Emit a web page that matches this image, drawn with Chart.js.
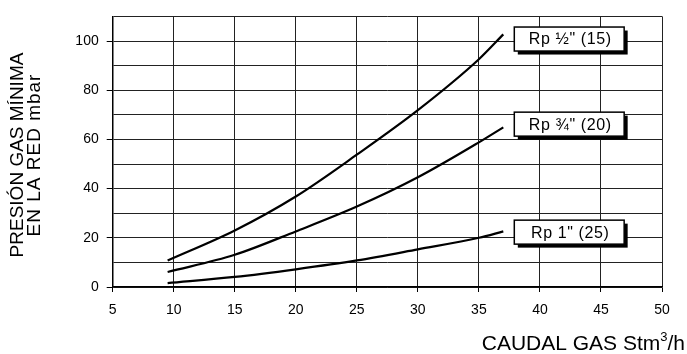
<!DOCTYPE html>
<html lang="es">
<head>
    <meta charset="UTF-8">
    <title>Presión gas mínima</title>
    <style>
        body { margin: 0; padding: 0; background: #fff; }
        #wrap { width: 687px; height: 354px; }
    </style>
    <script src="https://cdn.jsdelivr.net/npm/chart.js"></script>
</head>
<body>
<div id="wrap"><canvas id="chart" width="687" height="354"></canvas></div>
<script>
    // Datos
    const caudal = [9.5, 15, 20, 25, 30, 35, 37];
    const rp15 = [10.8, 23, 36.8, 53.8, 71.9, 92.6, 102.7];
    const rp20 = [6.1, 13.1, 22.6, 32.7, 44.6, 58.8, 64.9];
    const rp25 = [1.6, 4.1, 7.2, 10.8, 15.3, 20, 22.6];
    const etiquetas = ['Rp \u00BD" (15)', 'Rp \u00BE" (20)', 'Rp 1" (25)'];
    const etiquetaY = [100.8, 66.2, 22.3];
    const xTicks = [5, 10, 15, 20, 25, 30, 35, 40, 45, 50];
    const yTicks = [0, 20, 40, 60, 80, 100];

    const FONT = 'Arial, "Liberation Sans", sans-serif';

    function serie(vals) {
        return {
            data: caudal.map((x, i) => ({ x: x, y: vals[i] })),
            borderColor: '#000',
            borderWidth: 2.2,
            pointRadius: 0,
            showLine: true,
            fill: false,
            cubicInterpolationMode: 'monotone'
        };
    }

    // Títulos de ejes y cajas de etiquetas
    const extras = {
        id: 'extras',
        afterDraw(chart) {
            const c = chart.ctx;
            const xs = chart.scales.x, ys = chart.scales.y;
            c.save();
            c.fillStyle = '#000';

            // título eje Y (dos líneas, girado)
            c.translate(26, 155);
            c.rotate(-Math.PI / 2);
            c.font = '19px ' + FONT;
            c.textAlign = 'center';
            c.textBaseline = 'middle';
            c.fillText('PRESIÓN GAS MÍNIMA', 0, -8.5);
            c.letterSpacing = '1px';
            c.fillText('EN LA RED mbar', 0, 8.5);
            c.letterSpacing = '0px';
            c.setTransform(1, 0, 0, 1, 0, 0);

            // título eje X con superíndice
            c.textAlign = 'left';
            c.textBaseline = 'alphabetic';
            const a = 'CAUDAL GAS Stm', b = '/h';
            c.font = '13px ' + FONT;
            const w3 = c.measureText('3').width;
            c.font = '21px ' + FONT;
            const wa = c.measureText(a).width, wb = c.measureText(b).width;
            const x0 = 685 - wa - w3 - wb;
            const base = 350;
            c.fillText(a, x0, base);
            c.font = '13px ' + FONT;
            c.fillText('3', x0 + wa, base - 9);
            c.font = '21px ' + FONT;
            c.fillText(b, x0 + wa + w3, base);

            // cajas
            const bl = xs.getPixelForValue(37.9), br = xs.getPixelForValue(46.9);
            c.font = '16px ' + FONT;
            c.textAlign = 'center';
            c.textBaseline = 'middle';
            etiquetas.forEach((t, i) => {
                const cy = ys.getPixelForValue(etiquetaY[i]);
                const h = 24;
                c.fillStyle = '#000';
                c.fillRect(bl + 3.5, cy - h / 2 + 3.5, br - bl, h);
                c.fillStyle = '#fff';
                c.fillRect(bl, cy - h / 2, br - bl, h);
                c.strokeStyle = '#000';
                c.lineWidth = 1.5;
                c.strokeRect(bl, cy - h / 2, br - bl, h);
                c.fillStyle = '#000';
                c.letterSpacing = '0.6px';
                c.fillText(t, (bl + br) / 2 + 1, cy + 1);
                c.letterSpacing = '0px';
            });
            c.restore();
        }
    };

    new Chart(document.getElementById('chart'), {
        type: 'scatter',
        data: { datasets: [serie(rp15), serie(rp20), serie(rp25)] },
        options: {
            responsive: false,
            animation: false,
            layout: { padding: { top: 16, right: 25, left: 0, bottom: 0 } },
            plugins: { legend: { display: false }, tooltip: { enabled: false } },
            scales: {
                x: {
                    type: 'linear',
                    min: 5, max: 50,
                    afterBuildTicks: s => { s.ticks = xTicks.map(v => ({ value: v })); },
                    afterFit: s => { s.height = 67; },
                    grid: { color: '#222', lineWidth: 1, tickLength: 5, tickColor: '#000' },
                    border: { color: '#000', width: 1.5 },
                    ticks: { color: '#000', font: { family: FONT, size: 14 }, padding: 10, maxRotation: 0 }
                },
                y: {
                    min: 0, max: 110,
                    afterBuildTicks: s => {
                        const t = [];
                        for (let v = 0; v <= 110; v += 10) t.push({ value: v });
                        s.ticks = t;
                    },
                    afterFit: s => { s.width = 112.7; },
                    grid: {
                        color: '#222', lineWidth: 1, tickLength: 6,
                        tickColor: c => yTicks.includes(c.tick.value) ? '#000' : 'rgba(0,0,0,0)'
                    },
                    border: { color: '#000', width: 1.5 },
                    ticks: {
                        color: '#000', font: { family: FONT, size: 14 }, padding: 8,
                        callback: v => yTicks.includes(v) ? v : ''
                    }
                }
            }
        },
        plugins: [extras]
    });
</script>
</body>
</html>
